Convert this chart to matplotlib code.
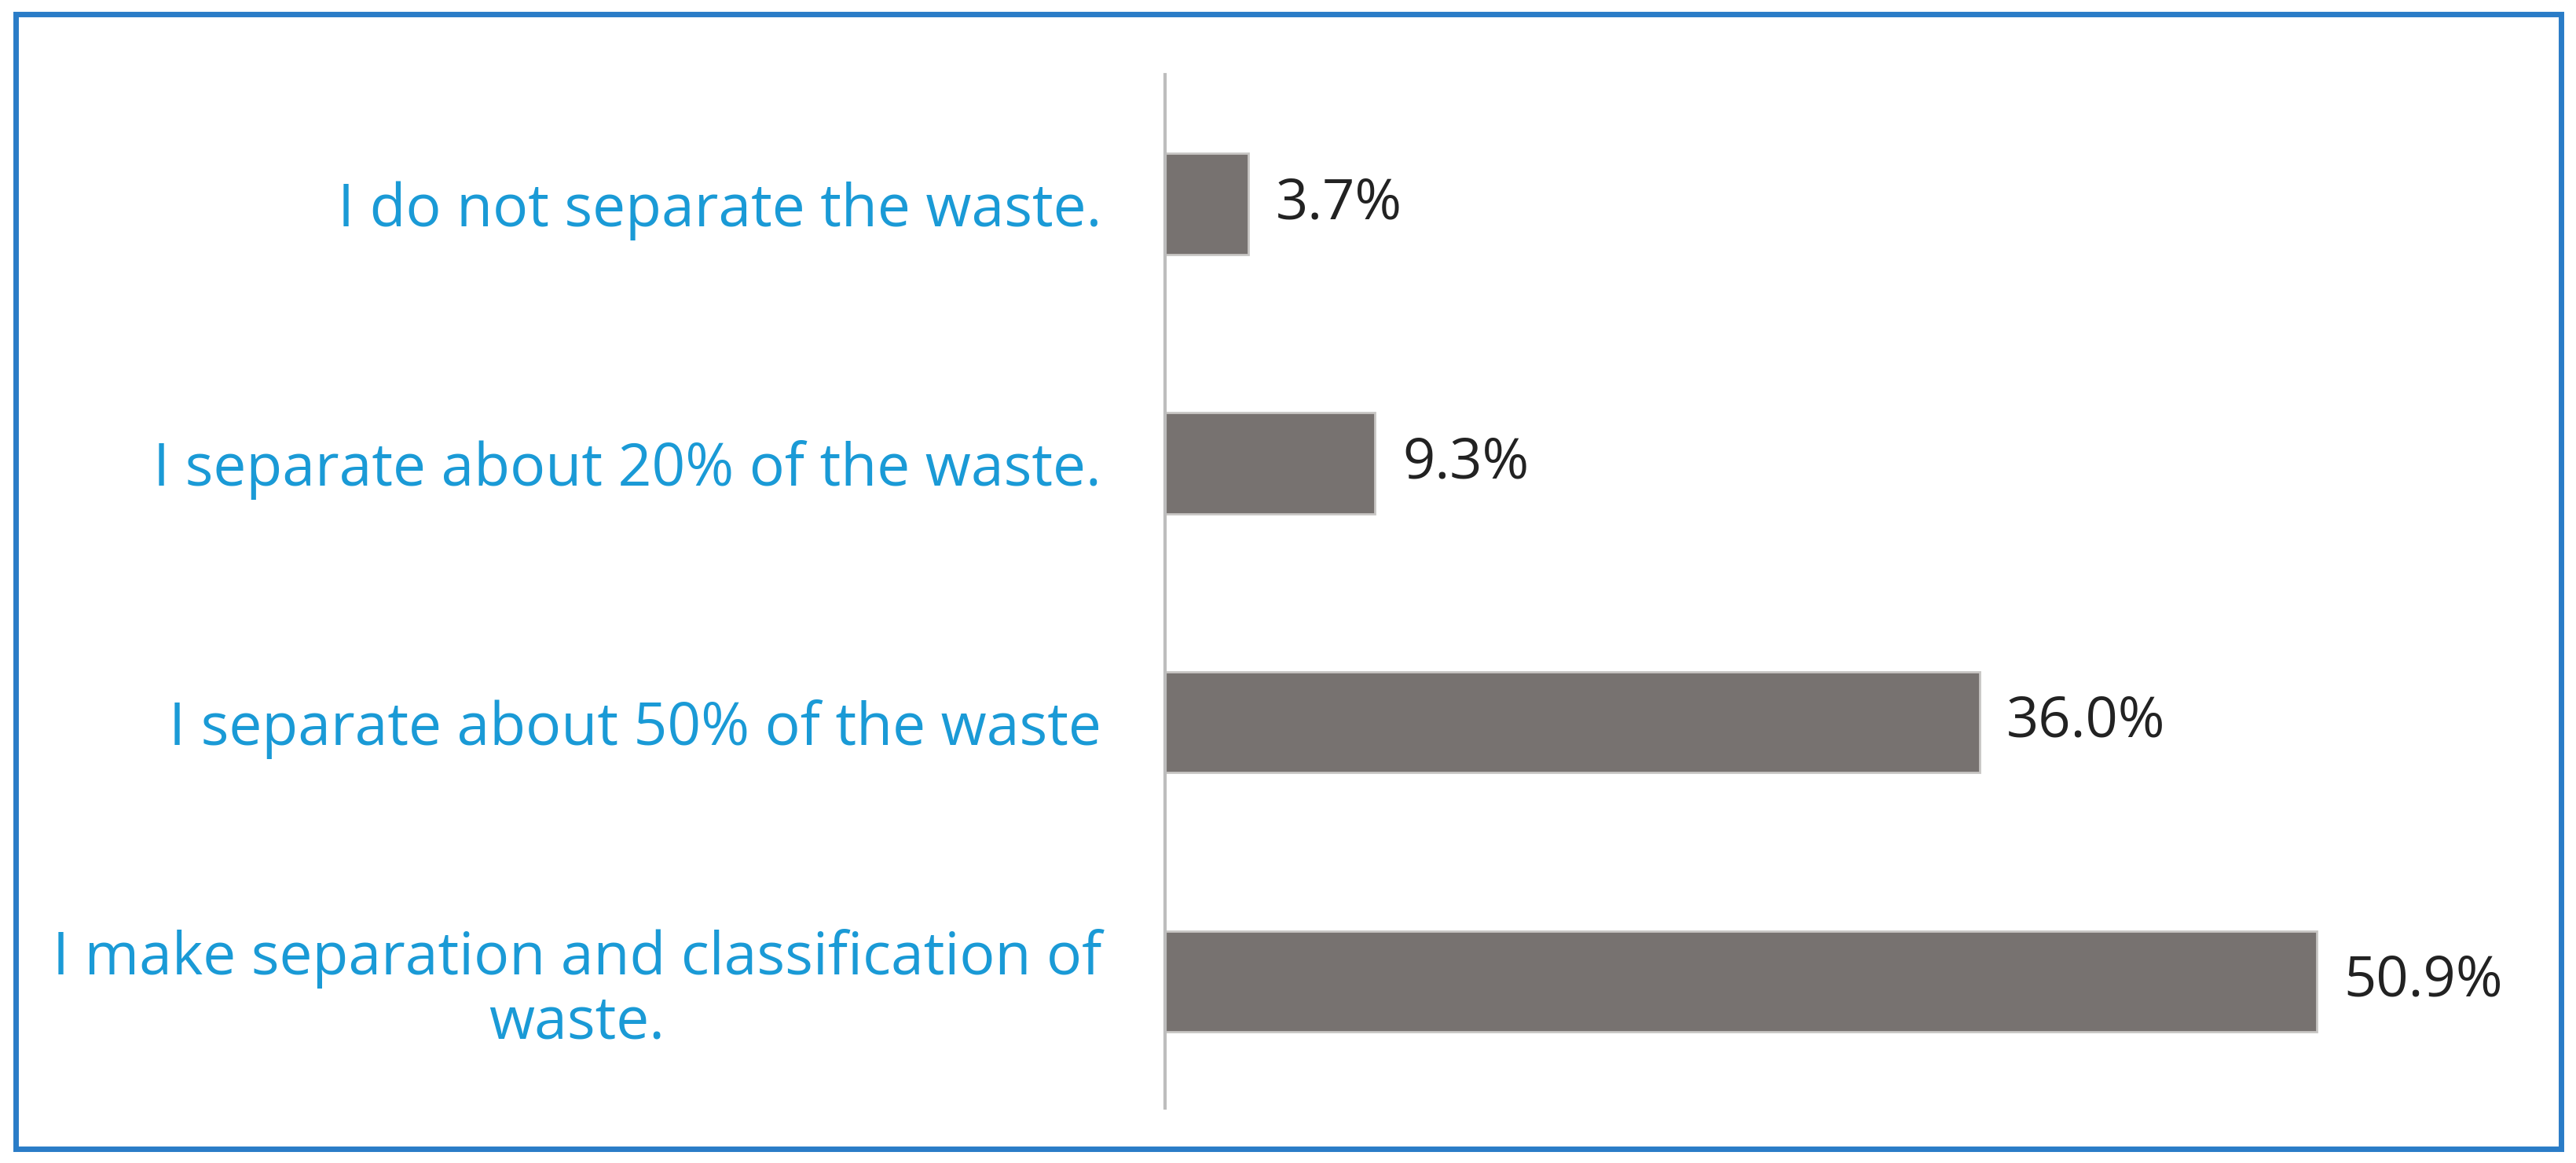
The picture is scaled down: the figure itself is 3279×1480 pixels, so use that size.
import matplotlib
matplotlib.use("Agg")
import matplotlib.pyplot as plt
from matplotlib.patches import Rectangle

categories = [
    "I do not separate the waste.",
    "I separate about 20% of the waste.",
    "I separate about 50% of the waste",
    "I make separation and classification of\nwaste.",
]
values = [3.7, 9.3, 36.0, 50.9]
value_labels = ["3.7%", "9.3%", "36.0%", "50.9%"]

plt.rcParams['font.family'] = ['Open Sans', 'DejaVu Sans']

fig = plt.figure(figsize=(32.8, 14.8), dpi=100)
ax = fig.add_axes([0.452, 0.047, 0.527, 0.889])

pos = list(range(len(categories)))
ax.barh(pos, values, height=0.39, color="#777270", edgecolor="#c8c6c4", linewidth=2)
for p, v, lab in zip(pos, values, value_labels):
    ax.text(v + 1.2, p, lab, va="center", ha="left", fontsize=52, color="#222222")

ax.set_xlim(0, 60)
ax.set_ylim(3.49, -0.5)
ax.set_yticks(pos)
ax.set_yticklabels(categories, fontsize=54, color="#1a9ad6", ha="right",
                   multialignment="center", linespacing=1.1)
ax.tick_params(axis="y", length=0, pad=58)
ax.set_xticks([])
for s in ["top", "right", "bottom"]:
    ax.spines[s].set_visible(False)
ax.spines["left"].set_color("#bdbdbd")
ax.spines["left"].set_linewidth(3)

fig.patches.append(Rectangle((0.006, 0.012), 0.988, 0.976, transform=fig.transFigure,
                             fill=False, edgecolor="#2a7cc7", linewidth=5))

fig.savefig("out.png", dpi=100)
